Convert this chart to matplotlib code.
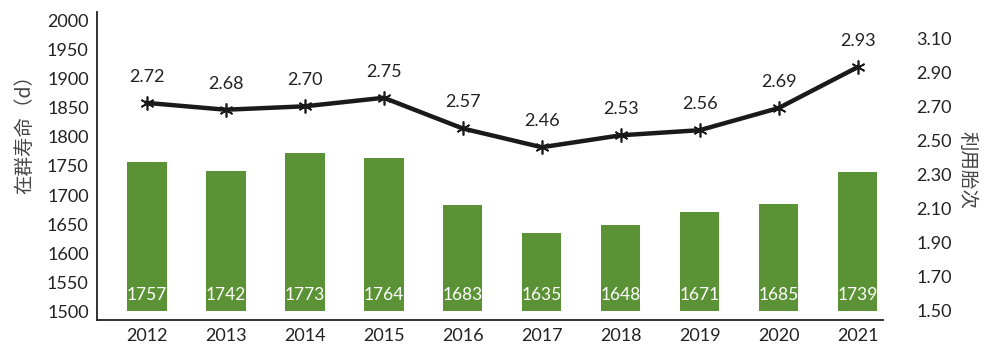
import matplotlib
matplotlib.use("Agg")
import matplotlib.pyplot as plt

years = ["2012", "2013", "2014", "2015", "2016", "2017", "2018", "2019", "2020", "2021"]
lifespan = [1757, 1742, 1773, 1764, 1683, 1635, 1648, 1671, 1685, 1739]
parity = [2.72, 2.68, 2.70, 2.75, 2.57, 2.46, 2.53, 2.56, 2.69, 2.93]
left_ticks = [1500, 1550, 1600, 1650, 1700, 1750, 1800, 1850, 1900, 1950, 2000]
right_ticks = [1.50, 1.70, 1.90, 2.10, 2.30, 2.50, 2.70, 2.90, 3.10]

plt.rcParams['font.family'] = ['Lato', 'Noto Sans CJK SC', 'DejaVu Sans']

fig = plt.figure(figsize=(9.99, 3.47), dpi=100)
ax = fig.add_axes([97/999, 27/347, (883-97)/999, 308/347])
x = list(range(len(years)))

bar_color = '#5b9235'
ax.bar(x, [v - 1500 for v in lifespan], bottom=1500, width=0.5, color=bar_color, zorder=2)
for xi, v in zip(x, lifespan):
    ax.text(xi, 1514, str(v), ha='center', va='bottom', color='white', fontsize=12.5, zorder=3)

ax.set_xlim(-0.63, 9.32)
ax.set_ylim(1484.5, 2015.5)
ax.set_yticks(left_ticks)
ax.set_yticklabels([str(t) for t in left_ticks], fontsize=13, color='#222222')
ax.set_xticks(x)
ax.set_xticklabels(years, fontsize=13, color='#222222')
ax.tick_params(axis='both', length=0, pad=6)
ax.spines['top'].set_visible(False)
ax.spines['right'].set_visible(False)
ax.spines['left'].set_linewidth(1.3)
ax.spines['bottom'].set_linewidth(1.3)
ax.spines['left'].set_color('#222222')
ax.spines['bottom'].set_color('#222222')
ax.set_ylabel('在群寿命（d）', fontsize=14, color='#444444', family=['Noto Sans CJK SC'], fontweight='light')
ax.yaxis.set_label_coords(-0.078, 0.617)

ax2 = ax.twinx()
ax2.plot(x, parity, color='#1a1a1a', linewidth=3.2, marker=(6, 2, 0), markersize=10,
         markeredgewidth=1.2, markeredgecolor='#1a1a1a', zorder=4)
for xi, v in zip(x, parity):
    ax2.annotate(f"{v:.2f}", (xi, v), xytext=(0, 13), textcoords='offset points',
                 ha='center', va='bottom', fontsize=13, color='#222222')
ax2.set_ylim(1.447, 3.253)
ax2.set_yticks(right_ticks)
ax2.set_yticklabels([f"{t:.2f}" for t in right_ticks], fontsize=13, color='#222222')
ax2.tick_params(axis='y', length=0, pad=24)
for s in ['top', 'right', 'left', 'bottom']:
    ax2.spines[s].set_visible(False)
ax2.set_ylabel('利用胎次', fontsize=14, color='#444444', rotation=-90,
               family=['Noto Sans CJK SC'], fontweight='light', va='bottom')
ax2.yaxis.set_label_coords(1.093, 0.487)

fig.savefig('out.png', dpi=100)
